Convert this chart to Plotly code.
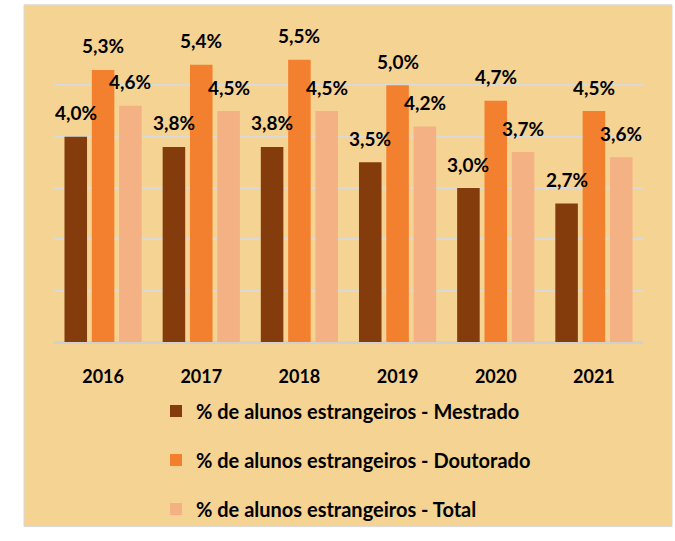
import plotly.graph_objects as go

anos = ["2016", "2017", "2018", "2019", "2020", "2021"]
mestrado = [4.0, 3.8, 3.8, 3.5, 3.0, 2.7]
doutorado = [5.3, 5.4, 5.5, 5.0, 4.7, 4.5]
total = [4.6, 4.5, 4.5, 4.2, 3.7, 3.6]

nomes = [
    "% de alunos estrangeiros - Mestrado",
    "% de alunos estrangeiros - Doutorado",
    "% de alunos estrangeiros - Total",
]
cores = ["#843C0C", "#F3802E", "#F4B183"]
series = [mestrado, doutorado, total]

FONTE = "Lato"
BG = "#F5D393"

# layout em pixels
L, R, T, B = 54, 32, 34, 190
W, H = 675, 541
bargap = 0.165
largura_cat = (W - L - R) / len(anos)
passo = largura_cat * (1 - bargap) / 3

fig = go.Figure()

for i, (nome, cor, vals) in enumerate(zip(nomes, cores, series)):
    fig.add_trace(go.Bar(
        x=anos,
        y=vals,
        name=nome,
        marker=dict(color=cor, line=dict(width=0)),
        legendgroup="g%d" % i,
    ))

# rotulos de dados (x = indice da categoria)
anotacoes = []
for i, vals in enumerate(series):
    for j, v in enumerate(vals):
        anotacoes.append(dict(
            x=j, y=v, xref="x", yref="y",
            text="<b>" + ("%.1f%%" % v).replace(".", ",") + "</b>",
            showarrow=False,
            xshift=(i - 1) * passo,
            yshift=24,
            yanchor="middle",
            font=dict(family=FONTE, size=19, color="black"),
        ))

pw = W - L - R
ph = H - T - B

fig.update_layout(
    width=W,
    height=H,
    margin=dict(l=L, r=R, t=T, b=B, pad=0),
    paper_bgcolor="white",
    plot_bgcolor=BG,
    barmode="group",
    bargap=bargap,
    bargroupgap=0.175,
    font=dict(family=FONTE, color="black"),
    annotations=anotacoes,
    shapes=[dict(
        type="rect", xref="paper", yref="paper", layer="below",
        x0=(24 - L) / pw, x1=(672 - L) / pw,
        y0=(H - B - H) / ph, y1=(H - B - 4) / ph,
        fillcolor=BG, line=dict(color="#D9D9D9", width=1),
    )],
    legend=dict(
        orientation="v",
        x=(156 - L) / pw,
        xanchor="left",
        y=(H - B - 402) / ph,
        yanchor="top",
        bgcolor="rgba(0,0,0,0)",
        font=dict(family=FONTE, size=20, color="black", weight="bold"),
        tracegroupgap=20,
    ),
)

fig.update_xaxes(
    type="category",
    range=[-0.5, len(anos) - 0.5],
    showgrid=False,
    showline=False,
    ticks="outside",
    ticklen=18,
    tickcolor="rgba(0,0,0,0)",
    tickfont=dict(family=FONTE, size=18, color="black", weight="bold"),
)
fig.update_yaxes(
    range=[0, 6],
    dtick=1,
    showticklabels=False,
    showgrid=True,
    gridcolor="#D9D9D9",
    gridwidth=2,
    zeroline=True,
    zerolinecolor="#D0D0D0",
    zerolinewidth=3,
)

fig.write_html(
    "out.html",
    config={"displayModeBar": False},
    post_script="document.body.style.margin='0';",
)
